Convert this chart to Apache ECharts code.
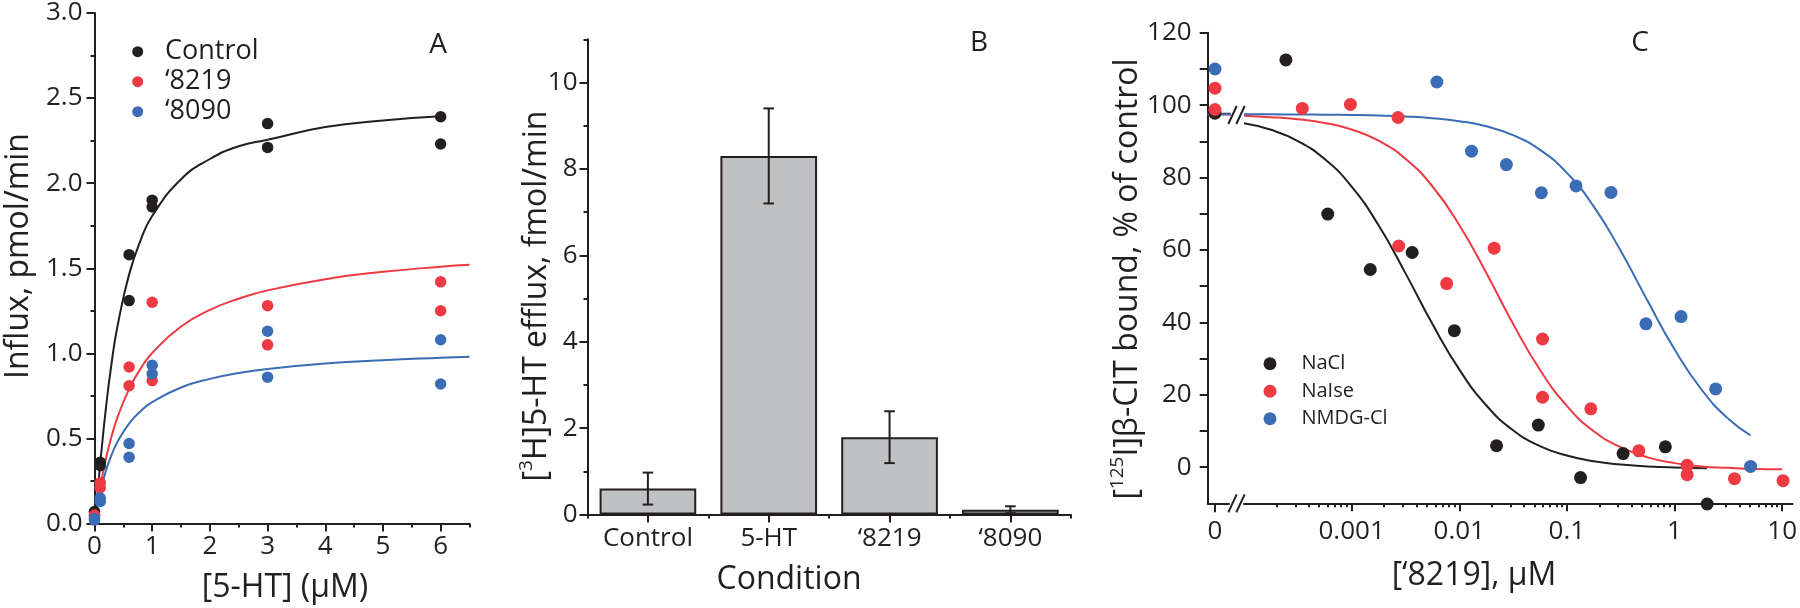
<!DOCTYPE html>
<html><head><meta charset="utf-8">
<script src="https://cdn.jsdelivr.net/npm/echarts@6/dist/echarts.min.js"></script>
<style>html,body{margin:0;padding:0;background:#fff}#c{width:1800px;height:608px}</style>
</head><body><div id="c"></div>
<script>
// ================= DATA =================
// Panel A: influx vs [5-HT]
const influxControl = [[0,0.07],[0,0.05],[0.1,0.36],[0.1,0.34],[0.6,1.58],[0.6,1.31],[1,1.90],[1,1.86],[3,2.35],[3,2.21],[6,2.39],[6,2.23]];
const influx8219 = [[0,0.05],[0,0.04],[0.1,0.24],[0.1,0.21],[0.6,0.92],[0.6,0.81],[1,1.30],[1,0.84],[3,1.28],[3,1.05],[6,1.42],[6,1.25]];
const influx8090 = [[0,0.03],[0,0.02],[0.1,0.15],[0.1,0.13],[0.6,0.47],[0.6,0.39],[1,0.93],[1,0.88],[3,1.13],[3,0.86],[6,1.08],[6,0.82]];
const fitX = [0,0.05,0.1,0.2,0.3,0.4,0.6,0.8,1,1.5,2,2.5,3,4,5,6,6.5];
const fitControl = [0,0.167,0.353,0.686,0.952,1.162,1.464,1.665,1.807,2.023,2.142,2.217,2.255,2.330,2.368,2.393];
const fit8219 = [0,0.116,0.217,0.384,0.517,0.625,0.790,0.911,1.002,1.158,1.255,1.321,1.370,1.436,1.479,1.509,1.520];
const fit8090 = [0,0.100,0.182,0.312,0.407,0.481,0.587,0.660,0.713,0.799,0.850,0.884,0.908,0.940,0.960,0.974,0.980];
const aXTicks = [0,1,2,3,4,5,6];
const aXMinor = [0.5,1.5,2.5,3.5,4.5,5.5,6.5];
const aYTicks = [0,0.5,1,1.5,2,2.5,3];
const aYMinor = [0.25,0.75,1.25,1.75,2.25,2.75];

// Panel B: efflux by condition
const conditions = ['Control','5-HT','\u20188219','\u20188090'];
const effluxMean = [0.60, 8.30, 1.79, 0.11];
const effluxErr  = [0.37, 1.10, 0.60, 0.08];
const bYTicks = [0,2,4,6,8,10];
const bYMinor = [1,3,5,7,9,11];

// Panel C: binding vs ['8219]
const zeroNaCl  = [[0,97.8]];
const zeroNalse = [[0,104.7],[0,98.8]];
const zeroNMDG  = [[0,110.0]];
const bindNaCl  = [[2.45e-4,112.5],[6.0e-4,69.9],[1.49e-3,54.6],[3.65e-3,59.3],[9.0e-3,37.7],[0.0222,5.9],[0.0543,11.6],[0.134,-2.9],[0.333,3.75],[0.822,5.6],[2.01,-10.2]];
const bindNalse = [[3.48e-4,99.1],[9.76e-4,100.2],[2.70e-3,96.6],[2.74e-3,61.1],[7.64e-3,50.7],[0.0211,60.5],[0.0594,35.4],[0.0594,19.3],[0.167,16.1],[0.466,4.5],[1.31,0.5],[1.31,-2.1],[3.61,-3.2],[10.2,-3.75]];
const bindNMDG  = [[6.2e-3,106.4],[0.013,87.3],[0.0274,83.6],[0.0579,75.8],[0.1216,77.7],[0.257,75.9],[0.543,39.6],[1.15,41.6],[2.41,21.6],[5.09,0.2]];
const fitNaClConc  = [1e-4,1.78e-4,3.16e-4,5.62e-4,1e-3,1.78e-3,3.16e-3,5.62e-3,1e-2,1.78e-2,3.16e-2,5.62e-2,0.1,0.178,0.316,0.562,1,2];
const fitNaClVal   = [95.0,93.2,90.1,85.1,77.5,66.8,53.6,39.6,27.0,17.1,10.2,5.8,3.2,1.6,0.7,0.2,-0.1,-0.3];
const fitNalseConc = [1e-4,1.78e-4,3.16e-4,5.62e-4,1e-3,1.78e-3,3.16e-3,5.62e-3,1e-2,1.78e-2,3.16e-2,5.62e-2,0.1,0.178,0.316,0.562,1,1.78,3.16,5.62,10];
const fitNalseVal  = [97.1,96.7,96.1,95.1,93.3,90.2,85.2,77.6,66.9,53.7,39.6,26.9,16.9,9.9,5.5,2.7,1.1,0.2,-0.2,-0.5,-0.6];
const fitNMDGConc  = [1e-4,1.78e-4,3.16e-4,5.62e-4,1e-3,1.78e-3,3.16e-3,5.62e-3,1e-2,1.78e-2,3.16e-2,5.62e-2,0.1,0.178,0.316,0.562,1,1.78,3.16,5.09];
const fitNMDGVal   = [97.48,97.47,97.44,97.39,97.31,97.16,96.89,96.42,95.59,94.16,91.71,87.66,81.28,71.96,59.78,45.95,32.55,21.44,13.34,8.75];
const fitTop = {NaCl: 97.6, Nalse: 97.4, NMDG: 97.5};
const cXMajor = [0.001,0.01,0.1,1,10];
const cXMinor = [2e-4,3e-4,4e-4,5e-4,6e-4,7e-4,8e-4,9e-4,2e-3,3e-3,4e-3,5e-3,6e-3,7e-3,8e-3,9e-3,0.02,0.03,0.04,0.05,0.06,0.07,0.08,0.09,0.2,0.3,0.4,0.5,0.6,0.7,0.8,0.9,2,3,4,5,6,7,8,9];
const cYTicks = [0,10,20,30,40,50,60,70,80,90,100,110,120];
const cYLabels = [0,20,40,60,80,100,120];

// ================= STYLE / LAYOUT =================
const FONT = '"Open Sans","Noto Sans",sans-serif';
const INK = '#231f20', RED = '#ee3a43', BLUE = '#3a6db5', GRAY = '#c0c1c3';
const gA = {left:94.5, top:10.5, width:375, height:513};
const gB = {left:587.5, top:39.3, width:483.3, height:475.2};
const gC0 = {left:1207.7, top:32.8, width:21.3, height:470.5};
const gC = {left:1244, top:32.8, width:552, height:470.5};
const TITLE = 32;

const lbl = (extra) => Object.assign({color:INK, fontFamily:FONT, fontSize:26}, extra);
const line = {show:true, onZero:false, lineStyle:{color:INK, width:2}};
const noLine = {show:false, onZero:false};
const tick = (len, vals, extra) => Object.assign({show:true, length:len, lineStyle:{color:INK, width:2}, customValues: vals}, extra||{});
const pairs = (xs, ys) => ys.map((y,i)=>[xs[i], y]);

const option = {
  animation:false,
  backgroundColor:'#fff',
  grid:[
    Object.assign({containLabel:false}, gA),
    Object.assign({containLabel:false}, gB),
    Object.assign({containLabel:false}, gC0),
    Object.assign({containLabel:false}, gC)
  ],
  xAxis:[
    {type:'value', gridIndex:0, min:0, max:6.5, position:'bottom', axisLine:line, splitLine:{show:false},
     axisTick:tick(8, aXTicks), axisLabel:lbl({margin:10, customValues:aXTicks})},
    {type:'value', gridIndex:0, min:0, max:6.5, position:'bottom', axisLine:noLine, splitLine:{show:false},
     axisTick:tick(4, aXMinor), axisLabel:{show:false}},
    {type:'category', gridIndex:1, data:conditions, position:'bottom', axisLine:line, splitLine:{show:false},
     axisTick:{show:true, alignWithLabel:true, interval:0, length:8, lineStyle:{color:INK, width:2}}, axisLabel:lbl({margin:11, interval:0})},
    {type:'category', gridIndex:1, data:conditions, position:'bottom', axisLine:noLine, splitLine:{show:false},
     axisTick:{show:true, alignWithLabel:false, interval:0, length:4, lineStyle:{color:INK, width:2}}, axisLabel:{show:false}},
    {type:'value', gridIndex:2, min:-1, max:1.92, position:'bottom', axisLine:line, splitLine:{show:false},
     axisTick:tick(9, [0]), axisLabel:lbl({margin:15, customValues:[0]})},
    {type:'log', logBase:10, gridIndex:3, min:1e-4, max:12.5, position:'bottom', axisLine:line, splitLine:{show:false},
     axisTick:tick(8, cXMajor), axisLabel:lbl({margin:15, customValues:cXMajor, formatter:v=>String(+Number(v).toPrecision(3))})},
    {type:'log', logBase:10, gridIndex:3, min:1e-4, max:12.5, position:'bottom', axisLine:noLine, splitLine:{show:false},
     axisTick:tick(4, cXMinor), axisLabel:{show:false}}
  ],
  yAxis:[
    {type:'value', gridIndex:0, min:0, max:3, position:'left', axisLine:line, splitLine:{show:false},
     axisTick:tick(8, aYTicks), axisLabel:lbl({margin:12, customValues:aYTicks, formatter:v=>Number(v).toFixed(1)})},
    {type:'value', gridIndex:0, min:0, max:3, position:'left', axisLine:noLine, splitLine:{show:false},
     axisTick:tick(4, aYMinor), axisLabel:{show:false}},
    {type:'value', gridIndex:1, min:0, max:11, position:'left', axisLine:line, splitLine:{show:false},
     axisTick:tick(8, bYTicks), axisLabel:lbl({margin:10, customValues:bYTicks})},
    {type:'value', gridIndex:1, min:0, max:11, position:'left', axisLine:noLine, splitLine:{show:false},
     axisTick:tick(4, bYMinor), axisLabel:{show:false}},
    {type:'value', gridIndex:2, min:-10, max:120, position:'left', axisLine:line, splitLine:{show:false},
     axisTick:tick(8, cYTicks), axisLabel:lbl({margin:16, customValues:cYLabels})},
    {type:'value', gridIndex:3, min:-10, max:120, show:false}
  ],
  legend:[
    {data:['Control','\u20188219','\u20188090'], orient:'vertical', left:132.2, top:36.7, padding:0, itemGap:0,
     itemWidth:11, itemHeight:11, selectedMode:false, icon:'circle',
     formatter: n => '{t|' + n + '}',
     textStyle:{color:INK, fontFamily:FONT, fontSize:27, lineHeight:30,
       rich:{t:{color:INK, fontFamily:FONT, fontSize:27, lineHeight:30, padding:[0,0,0,16.8]}}}},
    {data:['NaCl','NaIse','NMDG-Cl'], orient:'vertical', left:1263.5, top:350, padding:0, itemGap:0,
     itemWidth:13, itemHeight:13, selectedMode:false, icon:'circle',
     formatter: n => '{t|' + n + '}',
     textStyle:{color:INK, fontFamily:FONT, fontSize:20, lineHeight:27.5,
       rich:{t:{color:INK, fontFamily:FONT, fontSize:20, lineHeight:27.5, padding:[0,0,0,19.9]}}}}
  ],
  series:[]
};

// Panel A series
const aSets = [['Control', influxControl, fitControl, INK], ['\u20188219', influx8219, fit8219, RED], ['\u20188090', influx8090, fit8090, BLUE]];
aSets.forEach(([name, pts, fit, col]) => {
  option.series.push({type:'line', name:name+' fit', xAxisIndex:0, yAxisIndex:0, data:pairs(fitX, fit), showSymbol:false, symbol:'none',
    smooth:0.5, lineStyle:{color:col, width:2}, z:2, silent:true});
});
aSets.forEach(([name, pts, fit, col]) => {
  option.series.push({type:'scatter', name:name, xAxisIndex:0, yAxisIndex:0, data:pts, symbol:'circle', symbolSize:11.5,
    itemStyle:{color:col, opacity:1}, z:3, clip:false});
});

// Panel B series
option.series.push({type:'bar', name:'efflux', xAxisIndex:2, yAxisIndex:2, data:effluxMean, barWidth:'80%',
  itemStyle:{color:GRAY, borderColor:INK, borderWidth:2}, z:2});
option.series.push({type:'custom', name:'err', xAxisIndex:2, yAxisIndex:2,
  data: effluxMean.map((m,i)=>[i, m-effluxErr[i], m+effluxErr[i]]),
  encode:{x:0, y:[1,2]}, z:5,
  renderItem:(params, api) => {
    const lo = api.coord([api.value(0), api.value(1)]);
    const hi = api.coord([api.value(0), api.value(2)]);
    const hw = 5.3, st = {stroke:INK, lineWidth:2};
    return {type:'group', children:[
      {type:'line', shape:{x1:lo[0], y1:lo[1], x2:hi[0], y2:hi[1]}, style:st},
      {type:'line', shape:{x1:lo[0]-hw, y1:lo[1], x2:lo[0]+hw, y2:lo[1]}, style:st},
      {type:'line', shape:{x1:hi[0]-hw, y1:hi[1], x2:hi[0]+hw, y2:hi[1]}, style:st}
    ]};
  }});

// Panel C series
const cSets = [
  ['NaCl', zeroNaCl, bindNaCl, fitNaClConc, fitNaClVal, fitTop.NaCl, INK],
  ['NaIse', zeroNalse, bindNalse, fitNalseConc, fitNalseVal, fitTop.Nalse, RED],
  ['NMDG-Cl', zeroNMDG, bindNMDG, fitNMDGConc, fitNMDGVal, fitTop.NMDG, BLUE]
];
cSets.forEach(([name, z0, pts, fc, fv, top, col]) => {
  option.series.push({type:'line', name:name+' fit0', xAxisIndex:4, yAxisIndex:4, data:[[-1,top],[3.8,top]], showSymbol:false, symbol:'none',
    lineStyle:{color:col, width:2}, z:2, clip:false, silent:true});
  option.series.push({type:'line', name:name+' fit', xAxisIndex:5, yAxisIndex:5, data:pairs(fc, fv), showSymbol:false, symbol:'none',
    smooth:0.5, lineStyle:{color:col, width:2}, z:2, silent:true});
});
cSets.forEach(([name, z0, pts, fc, fv, top, col]) => {
  option.series.push({type:'scatter', name:name, xAxisIndex:4, yAxisIndex:4, data:z0, symbol:'circle', symbolSize:13,
    itemStyle:{color:col, opacity:1}, z:3, clip:false});
  option.series.push({type:'scatter', name:name, xAxisIndex:5, yAxisIndex:5, data:pts, symbol:'circle', symbolSize:13,
    itemStyle:{color:col, opacity:1}, z:3, clip:false});
});

// Titles, panel letters, break marks
const T = (x, y, text, size, rot, rich) => ({type:'text', x:x, y:y, rotation:rot||0, silent:true, z:10,
  style:{text:text, fontFamily:FONT, fontSize:size, fill:INK, align:'center', verticalAlign:'middle',
         textAlign:'center', textVerticalAlign:'middle', rich:rich}});
const supRich = {
  n:{fontFamily:FONT, fontSize:TITLE, fill:INK, lineHeight:40},
  s:{fontFamily:FONT, fontSize:19, fill:INK, lineHeight:21, verticalAlign:'top'}
};
const xBreak = gC0.left + gC0.width + (gC.left - gC0.left - gC0.width)/2;
const yAxisC = gC.top + gC.height;
const slash = (cx, cy) => ({type:'line', silent:true, z:11, shape:{x1:cx-4.2, y1:cy+9, x2:cx+4.2, y2:cy-9}, style:{stroke:INK, lineWidth:2}});
const yCurve = gC.top + gC.height * (120 - 97.3) / 130;

option.graphic = [
  T(19, 256, 'Influx, pmol/min', TITLE, Math.PI/2),
  T(285, 588, '[5-HT] (\u03bcM)', TITLE),
  T(537, 296, '{n|[}{s|3}{n|H]5-HT efflux, fmol/min}', TITLE, Math.PI/2, supRich),
  T(789, 580, 'Condition', TITLE),
  T(1128, 279, '{n|[}{s|125}{n|I]\u03b2-CIT bound, % of control}', TITLE, Math.PI/2, supRich),
  T(1474, 576, '[\u20188219], \u03bcM', TITLE),
  T(438, 44.6, 'A', 28),
  T(979, 42.7, 'B', 28),
  T(1640, 42.7, 'C', 28),
  slash(xBreak-4, yAxisC), slash(xBreak+4, yAxisC),
  slash(xBreak-4, yCurve), slash(xBreak+4, yCurve)
];

const chart = echarts.init(document.getElementById('c'), null, {renderer:'canvas'});
chart.setOption(option);
</script>
</body></html>
